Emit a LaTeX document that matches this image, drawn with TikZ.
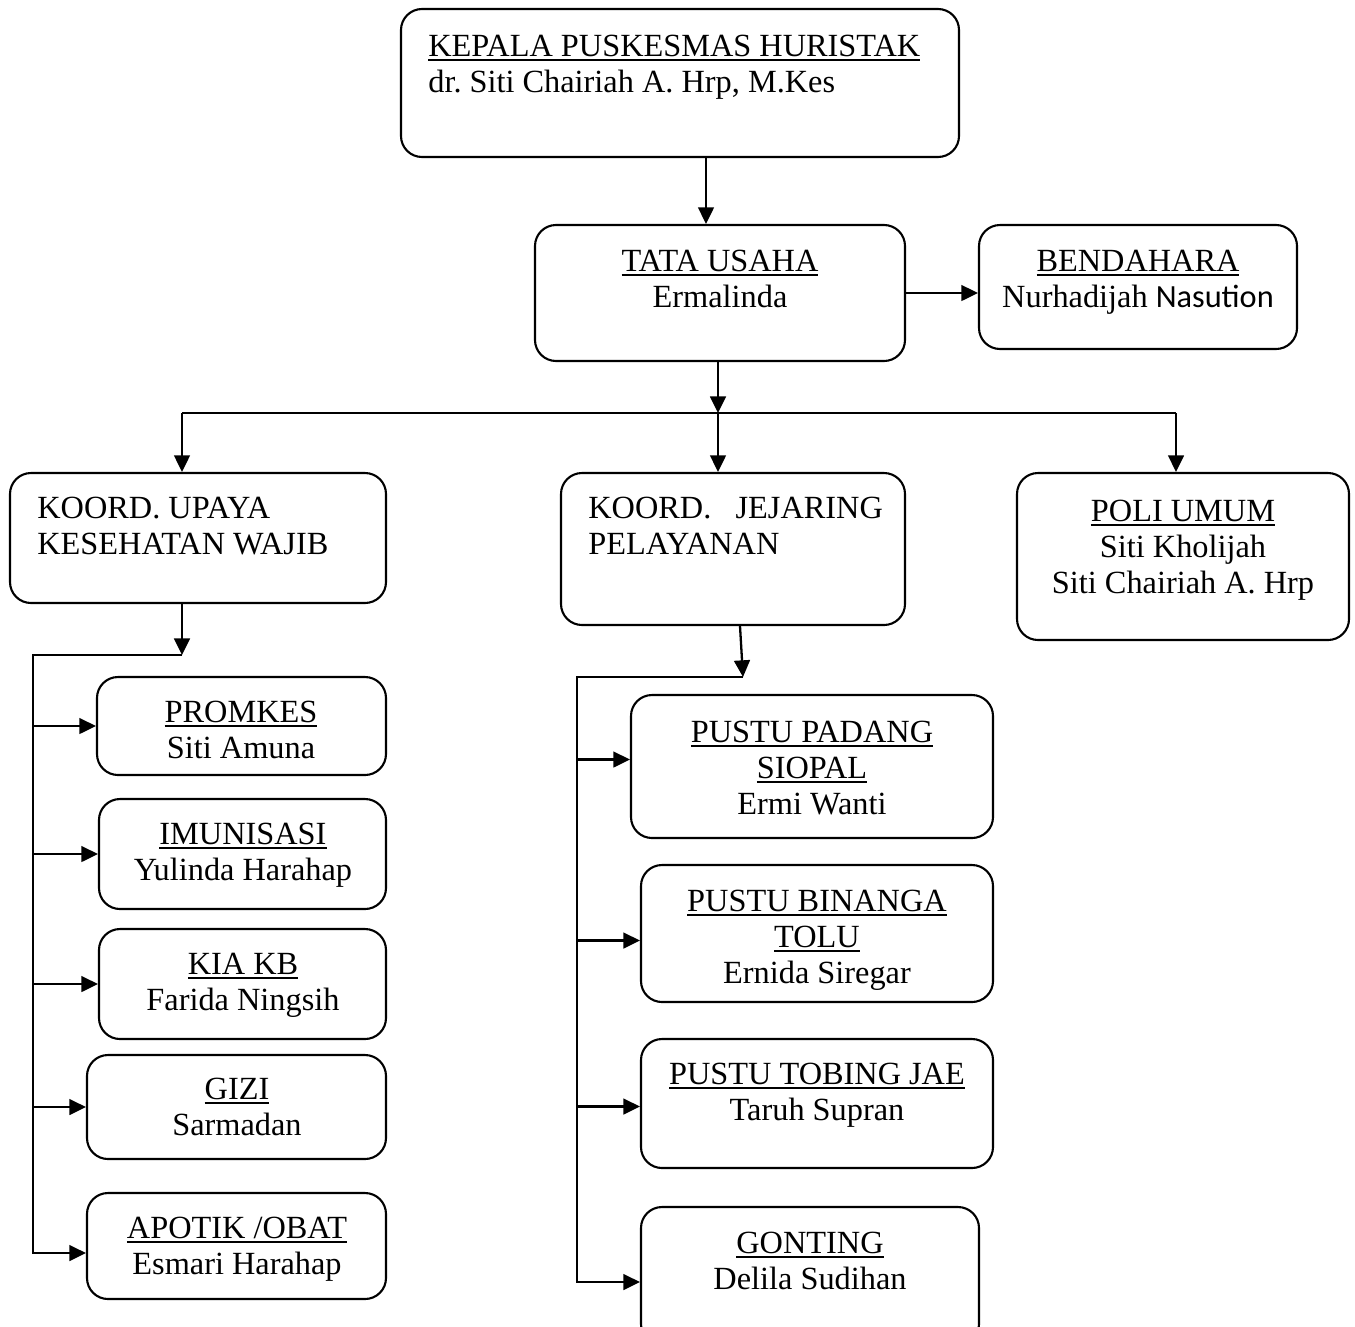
\documentclass[tikz,border=0pt]{standalone}
\usepackage{fontspec}
\setmainfont{Liberation Serif}
\newfontfamily\calib{Carlito}
\usetikzlibrary{arrows.meta,fit,calc}
\frenchspacing

\newcommand\undl[1]{\setbox0\hbox{#1}\rlap{\vrule height -1.4pt depth 2.6pt width \wd0}\box0}

\tikzset{
  orgbox/.style={draw, line width=1.2pt, rounded corners=0.42cm, inner sep=0pt},
  lbl/.style={font=\fontsize{18.4}{20.5}\selectfont, inner sep=0pt, align=center, anchor=north},
  lbll/.style={lbl, align=left, anchor=north west},
  link/.style={line width=1.3pt, -{Triangle[length=9.5pt,width=9pt]}},
  wire/.style={line width=1.3pt}
}

\begin{document}
\begin{tikzpicture}[x=0.02cm,y=-0.02cm]
  \useasboundingbox (0,0) rectangle (1355,1326);

  % boxes
  \node[orgbox, fit={(401,9) (959,157)}] (kp) {};
  \node[orgbox, fit={(535,225) (905,361)}] (tu) {};
  \node[orgbox, fit={(979,225) (1297,349)}] (bd) {};
  \node[orgbox, fit={(10,473) (386,603)}] (kw) {};
  \node[orgbox, fit={(561,473) (905,625)}] (kj) {};
  \node[orgbox, fit={(1017,473) (1349,640)}] (pu) {};
  \node[orgbox, fit={(97,677) (386,775)}] (pk) {};
  \node[orgbox, fit={(99,799) (386,909)}] (im) {};
  \node[orgbox, fit={(99,929) (386,1039)}] (kia) {};
  \node[orgbox, fit={(87,1055) (386,1159)}] (gz) {};
  \node[orgbox, fit={(87,1193) (386,1299)}] (ap) {};
  \node[orgbox, fit={(631,695) (993,838)}] (pp) {};
  \node[orgbox, fit={(641,865) (993,1002)}] (pb) {};
  \node[orgbox, fit={(641,1039) (993,1168)}] (pt) {};
  \node[orgbox, fit={(641,1207) (979,1345)}] (go) {};

  % texts
  \node[lbll] (kpt) at (428,35) {\undl{KEPALA PUSKESMAS HURISTAK}\\dr. Siti Chairiah A. Hrp, M.Kes};
  \node[lbl] (tut) at (720,250) {\undl{TATA USAHA}\\Ermalinda};
  \node[lbl] (bdt) at (1138,250) {\undl{BENDAHARA}\\Nurhadijah {\calib Nasution}};
  \node[lbll] (kwt) at (37,497) {KOORD. UPAYA\\KESEHATAN WAJIB};
  \node[lbll] (kjt) at (588,497) {KOORD.\hspace{0.75em}JEJARING\\PELAYANAN};
  \node[lbl] (put) at (1183,500) {\undl{POLI UMUM}\\Siti Kholijah\\Siti Chairiah A. Hrp};
  \node[lbl] (pkt) at (241,701) {\undl{PROMKES}\\Siti Amuna};
  \node[lbl] (imt) at (243,823) {\undl{IMUNISASI}\\Yulinda Harahap};
  \node[lbl] (kiat) at (243,953) {\undl{KIA KB}\\Farida Ningsih};
  \node[lbl] (gzt) at (237,1078) {\undl{GIZI}\\Sarmadan};
  \node[lbl] (apt) at (237,1217) {\undl{APOTIK /OBAT}\\Esmari Harahap};
  \node[lbl] (ppt) at (812,721) {\undl{PUSTU PADANG}\\\undl{SIOPAL}\\Ermi Wanti};
  \node[lbl] (pbt) at (817,890) {\undl{PUSTU BINANGA}\\\undl{TOLU}\\Ernida Siregar};
  \node[lbl] (ptt) at (817,1063) {\undl{PUSTU TOBING JAE}\\Taruh Supran};
  \node[lbl] (got) at (810,1232) {\undl{GONTING}\\Delila Sudihan};

  % top connectors
  \coordinate (kt) at (706,0);
  \draw[link] (kp.south -| kt) -- (tu.north -| kt);
  \draw[link] (tu.east) -- (bd.west |- tu.east);
  \coordinate (split) at (718,413);
  \coordinate (busL) at (182,413);
  \coordinate (busR) at (1176,413);
  \draw[link] (tu.south -| split) -- (split);
  \draw[wire] (busL) -- (busR);
  \draw[link] (busL) -- (busL |- kw.north);
  \draw[link] (split) -- (split |- kj.north);
  \draw[link] (busR) -- (busR |- pu.north);

  % left branch
  \coordinate (kwjoin) at (182,655);
  \coordinate (kwrail) at (33,655);
  \draw[link] (kw.south -| kwjoin) -- (kwjoin);
  \draw[link] (kwjoin) -- (kwrail) |- ($(ap.west)+(0,7)$);
  \foreach \n in {pk,im,kia,gz}
    \draw[link] (kwrail |- \n.west) -- (\n.west);

  % right branch
  \coordinate (kjjoin) at (743,677);
  \coordinate (kjrail) at (577,677);
  \draw[link] ($(kj.south)+(7,0)$) -- (kjjoin);
  \draw[link] (kjjoin) -- (kjrail) |- ($(go.west)+(0,6)$);
  \foreach \n/\dy in {pp/-7,pb/7,pt/3}
  {
    \coordinate (tip) at ($(\n.west)+(0,\dy)$);
    \draw[link] (kjrail |- tip) -- (tip);
  }
\end{tikzpicture}
\end{document}
